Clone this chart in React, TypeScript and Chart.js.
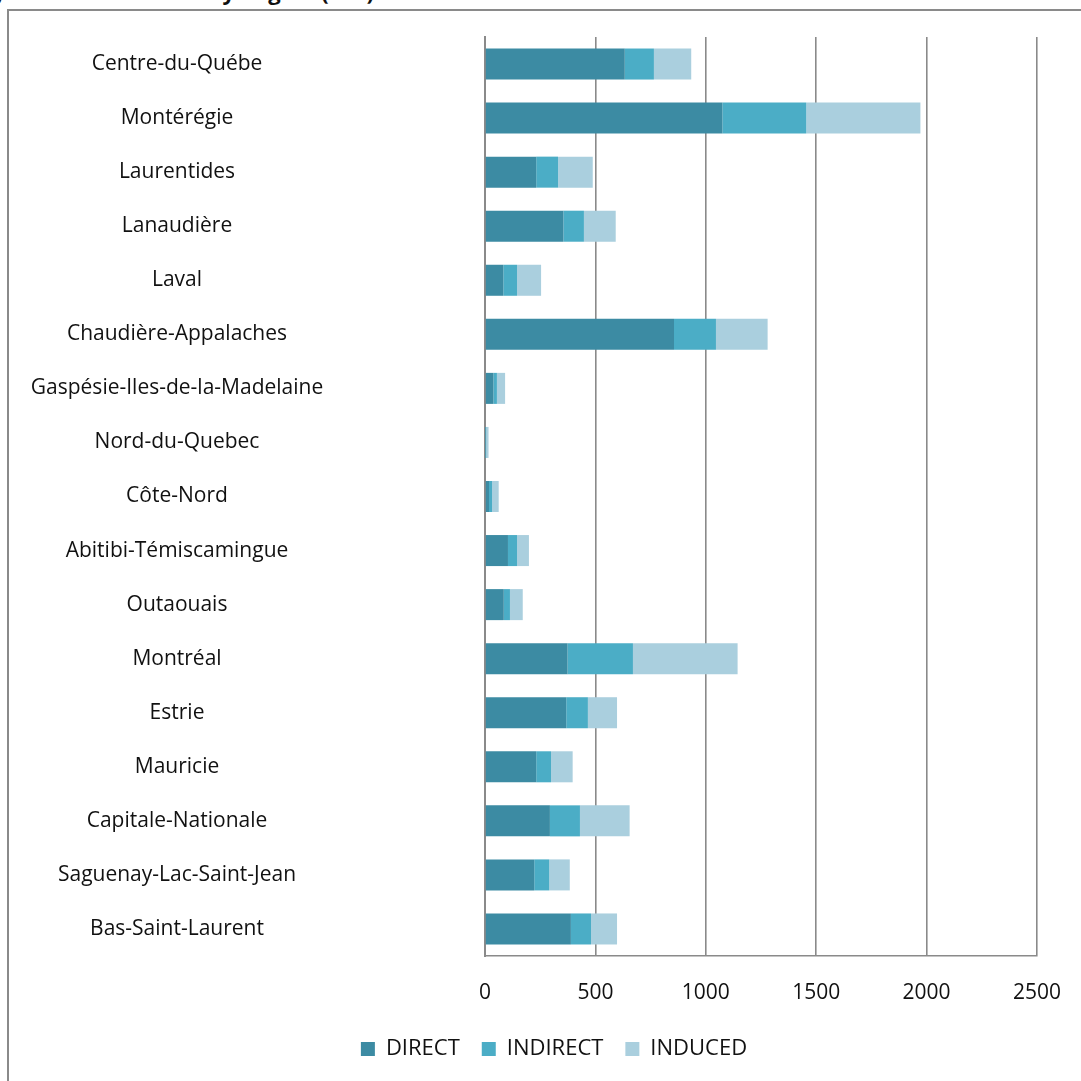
import React, { useEffect, useRef } from "react";
import { Chart, registerables } from "chart.js";

Chart.register(...registerables);

const categories = [
  "Centre-du-Québe",
  "Montérégie",
  "Laurentides",
  "Lanaudière",
  "Laval",
  "Chaudière-Appalaches",
  "Gaspésie-Iles-de-la-Madelaine",
  "Nord-du-Quebec",
  "Côte-Nord",
  "Abitibi-Témiscamingue",
  "Outaouais",
  "Montréal",
  "Estrie",
  "Mauricie",
  "Capitale-Nationale",
  "Saguenay-Lac-Saint-Jean",
  "Bas-Saint-Laurent",
];

const direct = [633, 1075, 232, 355, 83, 856, 38, 2, 18, 104, 85, 374, 368, 232, 294, 223, 389];
const indirect = [132, 380, 99, 93, 62, 190, 16, 4, 14, 41, 28, 296, 98, 67, 136, 68, 91];
const induced = [169, 517, 157, 144, 109, 234, 37, 10, 30, 54, 58, 474, 132, 98, 225, 93, 118];

const seriesNames = ["DIRECT", "INDIRECT", "INDUCED"];
const seriesColors = ["#3C8BA3", "#4BADC6", "#AACFDE"];

const xTicks = [0, 500, 1000, 1500, 2000, 2500];

const FONT = "'Open Sans', sans-serif";
const FONT_SIZE = 21;

const PAD_LEFT = 9;
const PAD_RIGHT = 44;
const AXIS_LEFT = 485;
const LEGEND_CENTER = 554;

const legendShift = {
  id: "legendShift",
  afterLayout(chart: any) {
    const lg = chart.legend;
    if (!lg) return;
    const dx = LEGEND_CENTER - (lg.left + lg.right) / 2;
    lg.left += dx;
    lg.right += dx;
    if (lg.legendHitBoxes) lg.legendHitBoxes.forEach((h: any) => (h.left += dx));
  },
};

export default function App() {
  const canvasRef = useRef<HTMLCanvasElement | null>(null);

  useEffect(() => {
    const canvas = canvasRef.current;
    if (!canvas) return;
    const ctx = canvas.getContext("2d");
    let widest = 300;
    if (ctx) {
      ctx.font = `${FONT_SIZE}px ${FONT}`;
      widest = Math.max(...categories.map((c) => ctx.measureText(c).width));
    }
    const labelCenter = 177;
    const tickLen = Math.max(0, AXIS_LEFT - labelCenter - widest / 2);
    const values = [direct, indirect, induced];
    const chart = new Chart(canvas, {
      type: "bar",
      data: {
        labels: categories,
        datasets: seriesNames.map((name, i) => ({
          label: name,
          data: values[i],
          backgroundColor: seriesColors[i],
          borderWidth: 0,
          barPercentage: 0.574,
          categoryPercentage: 1,
        })),
      },
      plugins: [legendShift],
      options: {
        indexAxis: "y",
        animation: false,
        responsive: false,
        maintainAspectRatio: false,
        layout: { padding: { left: PAD_LEFT, right: PAD_RIGHT, top: 37, bottom: 11 } },
        plugins: {
          legend: {
            position: "bottom",
            labels: {
              font: { family: FONT, size: 22 },
              color: "#111",
              boxWidth: 14,
              boxHeight: 14,
              padding: 22,
            },
          },
          tooltip: { enabled: false },
          title: { display: false },
        },
        scales: {
          x: {
            stacked: true,
            min: 0,
            max: 2500,
            afterBuildTicks: (scale: any) => {
              scale.ticks = xTicks.map((v) => ({ value: v }));
            },
            afterFit: (scale: any) => {
              scale.height = 60;
              scale.paddingRight = 0;
              scale.paddingLeft = 0;
            },
            ticks: {
              font: { family: FONT, size: FONT_SIZE },
              color: "#111",
              padding: 24,
              callback: (v: any) => String(v),
            },
            grid: {
              color: "#8A8A8A",
              lineWidth: 1.6,
              drawTicks: false,
            },
            border: { color: "#8A8A8A", width: 1.6 },
          },
          y: {
            stacked: true,
            afterFit: (scale: any) => {
              scale.width = AXIS_LEFT - PAD_LEFT;
            },
            ticks: {
              font: { family: FONT, size: FONT_SIZE },
              color: "#111",
              crossAlign: "center",
              padding: 0,
              autoSkip: false,
            },
            grid: { display: false, drawTicks: true, tickLength: tickLen },
            border: { color: "#8A8A8A", width: 2 },
          },
        },
      },
    } as any);
    return () => chart.destroy();
  }, []);

  return (
    <div
      style={{
        position: "fixed",
        left: 0,
        top: 0,
        width: 1081,
        height: 1081,
        overflow: "hidden",
        background: "#fff",
      }}
    >
      <div
        style={{
          position: "absolute",
          right: 1081 - 374,
          top: -20,
          whiteSpace: "nowrap",
          font: `bold 22px ${FONT}`,
          lineHeight: "22px",
          color: "#111",
        }}
      >
        Employment Distribution by Region (No.)
      </div>
      <div
        style={{
          position: "absolute",
          left: 7,
          top: 9,
          width: 1200,
          height: 1200,
          borderLeft: "2px solid #8A8A8A",
          borderTop: "2px solid #8A8A8A",
          background: "#fff",
        }}
      />
      <canvas
        ref={canvasRef}
        width={1081}
        height={1081}
        style={{ position: "absolute", left: 0, top: 0, width: 1081, height: 1081 }}
      />
    </div>
  );
}
